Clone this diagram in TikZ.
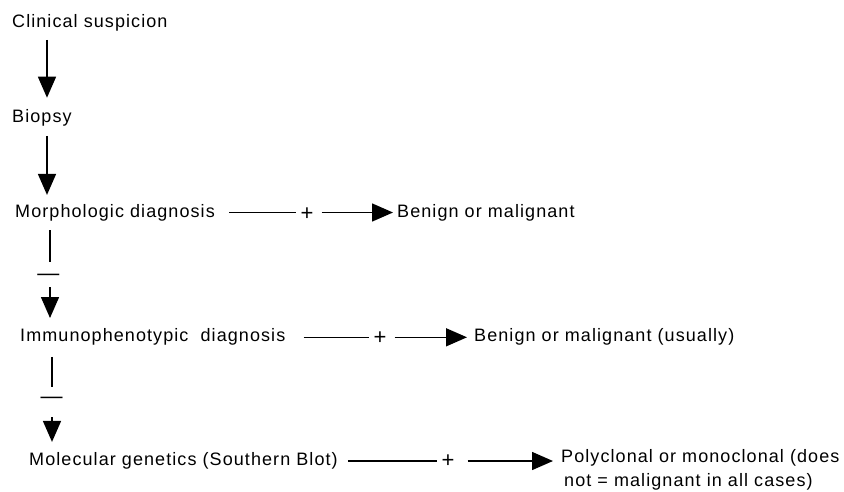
\documentclass[tikz,border=0pt]{standalone}
\usepackage{fontspec}
\setmainfont{Liberation Sans}[LetterSpace=6]
\usetikzlibrary{arrows.meta}

\tikzset{
  txt/.style={anchor=west, inner sep=0pt, font=\fontsize{18}{24}\selectfont},
  sign/.style={inner xsep=4pt, inner ysep=0pt, minimum height=12pt, font=\fontsize{22}{22}\selectfont},
  ln/.style={line width=1.5pt},
  arr/.style={ln, -{Triangle[width=18pt,length=21pt]}},
}

\begin{document}
\begin{tikzpicture}[x=1pt, y=-1pt]
    \useasboundingbox (0,0) rectangle (844,491);
    % left column
    \node[txt] (clin) at (12,23.3) {Clinical suspicion};
    \node[txt] (biop) at (12,118.3) {Biopsy};
    \node[txt] (morph) at (15,212.5) {Morphologic diagnosis};
    \node[txt] (immu) at (20,337.3) {Immunophenotypic~ diagnosis};
    \node[txt] (mol) at (29,461) {Molecular genetics (Southern Blot)};
    % results
    \node[txt] (ben1) at (397,212.5) {Benign or malignant};
    \node[txt] (ben2) at (474,337.3) {Benign or malignant (usually)};
    \node[txt, anchor=north west, align=left] (poly) at (561,449.5)
        {Polyclonal or monoclonal (does\\\hspace*{3pt}not = malignant in all cases)};
    % signs
    \node[sign] (p1) at (307,214) {+};
    \node[sign] (p2) at (380,338) {+};
    \node[sign] (p3) at (448,461) {+};
    \node[sign] (m1) at (48.5,277.6) {—};
    \node[sign] (m2) at (51.5,400.6) {—};
    % vertical connectors
    \draw[arr, shorten <=8pt, shorten >=12pt] ([xshift=35pt]clin.south west) -- ([xshift=35pt]biop.north west);
    \draw[arr, shorten <=9pt, shorten >=9pt] ([xshift=35pt]biop.south west) -- ([xshift=32pt]morph.north west);
    \draw[ln, shorten <=9pt, shorten >=9.6pt] ([xshift=35pt]morph.south west) -- ([xshift=1.5pt]m1.north);
    \draw[arr, shorten <=3.4pt, shorten >=10.7pt] ([xshift=1.5pt]m1.south) -- ([xshift=30pt]immu.north west);
    \draw[ln, shorten <=11pt, shorten >=7.6pt] ([xshift=32pt]immu.south west) -- ([xshift=0.5pt]m2.north);
    \draw[arr, shorten <=10.4pt, shorten >=10.5pt] ([xshift=0.5pt]m2.south) -- ([xshift=23pt]mol.north west);
    % horizontal connectors
    \draw[ln, shorten <=14pt] (morph.east) -- (p1.west |- morph.east);
    \draw[arr, shorten <=4pt, shorten >=4pt] (p1.east |- morph.east) -- (ben1.west);
    \draw[ln, shorten <=18pt] (immu.east) -- (p2.west |- immu.east);
    \draw[arr, shorten <=4pt, shorten >=7pt] (p2.east |- immu.east) -- (ben2.west);
    \draw[ln, shorten <=10pt] (mol.east) -- (p3.west |- mol.east);
    \draw[arr, shorten <=9pt, shorten >=8pt] (p3.east |- mol.east) -- (mol.east -| poly.west);
\end{tikzpicture}
\end{document}
